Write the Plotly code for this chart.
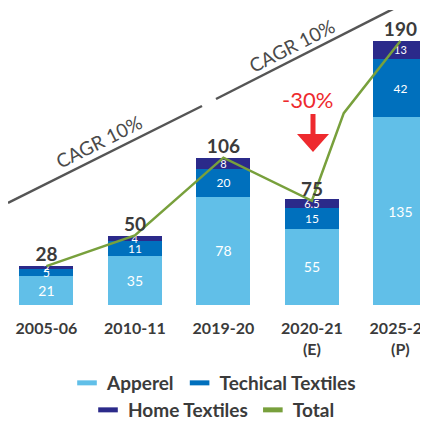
import plotly.graph_objects as go

categories = ["2005-06", "2010-11", "2019-20", "2020-21<br>(E)", "2025-26<br>(P)"]
apperel = [21, 35, 78, 55, 135]
technical = [5, 11, 20, 15, 42]
home = [2, 4, 8, 6.5, 13]
total = [28, 50, 106, 75, 190]
# total line (with the drawn kink between the last two years)
line_x = [0, 1, 2, 3, 3.36, 4]
line_y = [28, 50, 106, 75, 138, 190]

C_APP = "#61bfe8"
C_TECH = "#0070bd"
C_HOME = "#2b2a8a"
C_TOT = "#78a03c"
DARK = "#3b3b3b"
FONT = "Lato"

# page has an 8px body margin
OFF = 8
X0, XS, Y0, YS = 46.4, 88.5, 305.0, 1.39
def dx(px):
    return (px - X0) / XS
def dy(py):
    return (Y0 - py) / YS

W, H = 428, 423 - OFF
xs = list(range(len(categories)))
fig = go.Figure()
for name, vals, col, fs in [("Apperel", apperel, C_APP, 14), ("Techical Textiles", technical, C_TECH, 12),
                            ("Home Textiles", home, C_HOME, 11)]:
    fig.add_trace(go.Bar(
        x=xs, y=vals, name=name, marker=dict(color=col, line=dict(width=0)),
        width=0.61, text=[f"{v:g}" for v in vals], textposition="inside", textangle=0,
        insidetextanchor="middle", constraintext="none",
        textfont=dict(color="white", size=fs, family=FONT), showlegend=False,
        hoverinfo="skip"))

fig.add_trace(go.Scatter(x=line_x, y=line_y, mode="lines", line=dict(color=C_TOT, width=2.5),
                         showlegend=False, hoverinfo="skip", cliponaxis=False))
fig.add_trace(go.Scatter(x=xs, y=total, mode="text", text=[str(t) for t in total],
                         textposition="top center", cliponaxis=False,
                         textfont=dict(size=19, color=DARK, family=FONT, weight="bold"),
                         showlegend=False, hoverinfo="skip"))

# legend entries
for name, col, lg in [("Apperel", C_APP, "legend"), ("Techical Textiles", C_TECH, "legend"),
                      ("Home Textiles", C_HOME, "legend2"), ("Total", C_TOT, "legend2")]:
    fig.add_trace(go.Scatter(x=[None], y=[None], mode="markers", name=name, legend=lg,
                             marker=dict(symbol="line-ew", size=14, line=dict(width=5, color=col))))

shapes = [
    dict(type="line", xref="x", yref="y", x0=dx(8), y0=dy(203), x1=dx(202), y1=dy(106),
         line=dict(color="#555555", width=2.5)),
    dict(type="line", xref="x", yref="y", x0=dx(216), y0=dy(99), x1=dx(395), y1=dy(8),
         line=dict(color="#555555", width=2.5)),
]
arrow = [(310.5, 114), (315.5, 114), (315.5, 134), (329, 134), (313, 152), (297, 134), (310.5, 134)]
path = "M " + " L ".join(f"{dx(a):.4f},{dy(b):.4f}" for a, b in arrow) + " Z"
shapes.append(dict(type="path", xref="x", yref="y", path=path, fillcolor="#ee2a2e",
                   line=dict(width=0)))

annotations = [
    dict(x=dx(98.5), y=dy(141), xref="x", yref="y", text="CAGR 10%", showarrow=False,
         textangle=-26.6, font=dict(size=19, color="#4a4a4a", family=FONT)),
    dict(x=dx(291.5), y=dy(45), xref="x", yref="y", text="CAGR 10%", showarrow=False,
         textangle=-27, font=dict(size=19, color="#4a4a4a", family=FONT)),
    dict(x=dx(307), y=dy(99), xref="x", yref="y", text="-30%", showarrow=False,
         font=dict(size=22, color="#ee2a2e", family=FONT)),
]

leg_common = dict(orientation="h", xanchor="center", yanchor="middle",
                  font=dict(size=19, color=DARK, family=FONT, weight="bold"), itemwidth=30,
                  tracegroupgap=0, traceorder="normal", bgcolor="rgba(0,0,0,0)")
leg_x = (214 - OFF) / W

fig.update_layout(
    width=W, height=H, barmode="stack",
    margin=dict(l=0, r=0, t=10 - OFF, b=H - (305 - OFF), autoexpand=False),
    paper_bgcolor="white", plot_bgcolor="white",
    xaxis=dict(range=[dx(OFF), dx(OFF + W)], tickvals=xs, ticktext=categories, showgrid=False,
               zeroline=False, showline=False, ticks="", ticklabelstandoff=12, automargin=False,
               ticklabeloverflow="allow",
               tickfont=dict(size=16, color=DARK, family=FONT, weight="bold")),
    yaxis=dict(range=[0, dy(10)], showgrid=False, zeroline=False, showticklabels=False,
               showline=False, automargin=False),
    shapes=shapes, annotations=annotations,
    legend=dict(x=leg_x, y=(305 - 383) / 295, **leg_common),
    legend2=dict(x=leg_x, y=(305 - 410) / 295, **leg_common),
    hovermode=False,
)

fig.write_html("out.html")
